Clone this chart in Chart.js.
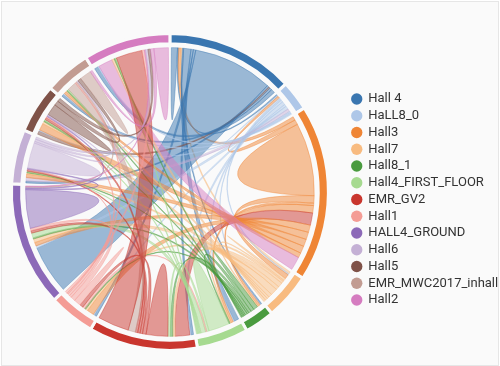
<!DOCTYPE html>
<html>
<head>
<meta charset="utf-8">
<script src="https://cdn.jsdelivr.net/npm/chart.js@4.4.1/dist/chart.umd.min.js"></script>
<style>
  html, body { margin: 0; padding: 0; background: #fff; }
  #frame { position: absolute; left: 1px; top: 1px; width: 496px; height: 363px; border: 1px solid #e6e6e6; background: #fafafa; }
  #chart { position: absolute; left: 0; top: 0; }
</style>
</head>
<body>
<div id="frame"></div>
<canvas id="chart" width="500" height="366"></canvas>
<script>
// groups, in drawing order (clockwise from 12 o'clock)
const halls = ['Hall 4', 'HaLL8_0', 'Hall3', 'Hall7', 'Hall8_1', 'Hall4_FIRST_FLOOR', 'EMR_GV2',
  'Hall1', 'HALL4_GROUND', 'Hall6', 'Hall5', 'EMR_MWC2017_inhall', 'Hall2'];
const hallColors = ['#3a76b0', '#aec7e8', '#ef8535', '#f8bb80', '#4a9b3f', '#a6da90', '#c9362e',
  '#f49c95', '#8c69b8', '#c4b0d5', '#7f5248', '#c29c92', '#d57cc0'];

// flow from each hall to each hall, columns in the same order as halls
const fromHall4       = [2.5, 0.5, 1, 0.5, 0.5, 3, 1, 1, 33, 0.8, 0.6, 1, 1.6];
const fromHall8_0     = [0.5, 0.5, 1, 0.7, 0.5, 1, 1.5, 1, 1.5, 1.3, 0.5, 0.5, 0.5];
const fromHall3       = [1.5, 2, 30, 3, 1, 3, 5, 3, 3, 3, 3, 2, 5.5];
const fromHall7       = [1, 0.5, 2, 1, 0.5, 1, 2, 1.5, 3, 1.5, 1, 1, 1];
const fromHall8_1     = [0.5, 0.3, 1, 0.5, 2, 1.5, 1.2, 0.8, 1, 0.6, 0.5, 0.6, 0.5];
const fromHall4First  = [2, 0.5, 1, 0.5, 0.5, 9, 1, 0.5, 2, 0.5, 0.5, 0.5, 0.5];
const fromEmrGv2      = [1, 0.5, 6, 1, 1, 1, 9, 1.5, 1, 1, 1, 3, 13];
const fromHall1       = [1, 0.5, 3, 1, 0.5, 1, 1.5, 3, 2, 1, 1, 0.5, 1];
const fromHall4Ground = [20, 1, 1.5, 1.5, 0.5, 2, 1, 1, 16, 0.5, 0.5, 0.3, 0.2];
const fromHall6       = [0.8, 1.5, 1.5, 0.5, 0.3, 0.4, 0.5, 0.3, 0.5, 11, 0.7, 1, 1];
const fromHall5       = [1.5, 0.5, 3, 1, 0.5, 0.5, 1, 0.5, 0.5, 0.5, 5, 2, 1.5];
const fromEmrMwc      = [1, 0.5, 1, 0.5, 0.5, 0.5, 4, 0.5, 0.5, 0.5, 1.5, 5, 1];
const fromHall2       = [1.5, 0.5, 6, 1, 0.5, 0.5, 11, 1, 0.5, 1, 1, 1.5, 6];

const flows = [fromHall4, fromHall8_0, fromHall3, fromHall7, fromHall8_1, fromHall4First, fromEmrGv2,
  fromHall1, fromHall4Ground, fromHall6, fromHall5, fromEmrMwc, fromHall2];
const groupTotals = flows.map((row) => row.reduce((a, b) => a + b, 0));

const BG = '#fafafa';

function rgba(hex, a) {
  const n = parseInt(hex.slice(1), 16);
  return `rgba(${n >> 16},${(n >> 8) & 255},${n & 255},${a})`;
}

// chord ribbons, laid out on the angles the doughnut gave each hall
const ribbons = {
  id: 'ribbons',
  afterDatasetsDraw(chart) {
    const arcs = chart.getDatasetMeta(0).data;
    if (!arcs.length) return;
    const cx = arcs[0].x, cy = arcs[0].y;
    const r = arcs[0].innerRadius - 4;
    const pad = 1.5 / r;

    const sub = flows.map((row, i) => {
      const a = arcs[i];
      const k = (a.endAngle - a.startAngle - 2 * pad) / groupTotals[i];
      let t = a.startAngle + pad;
      return row.map((v) => { const s = [t, t + v * k]; t += v * k; return s; });
    });

    const ctx = chart.ctx;
    ctx.save();
    for (let i = 0; i < flows.length; i++) {
      for (let j = i; j < flows.length; j++) {
        if (!flows[i][j] && !flows[j][i]) continue;
        const src = flows[i][j] >= flows[j][i] ? i : j;
        const tgt = src === i ? j : i;
        const [sa0, sa1] = sub[src][tgt];
        const [ta0, ta1] = sub[tgt][src];
        ctx.beginPath();
        ctx.moveTo(cx + r * Math.cos(sa0), cy + r * Math.sin(sa0));
        ctx.arc(cx, cy, r, sa0, sa1);
        if (src !== tgt) {
          ctx.quadraticCurveTo(cx, cy, cx + r * Math.cos(ta0), cy + r * Math.sin(ta0));
          ctx.arc(cx, cy, r, ta0, ta1);
        }
        ctx.quadraticCurveTo(cx, cy, cx + r * Math.cos(sa0), cy + r * Math.sin(sa0));
        ctx.closePath();
        ctx.fillStyle = rgba(hallColors[src], 0.5);
        ctx.fill();
        ctx.lineWidth = 0.8;
        ctx.strokeStyle = rgba(hallColors[src], 0.5);
        ctx.stroke();
      }
    }
    ctx.restore();
  },
};

// nudge the legend to where the original sits
const legendPlace = {
  id: 'legendPlace',
  afterLayout(chart) {
    const lg = chart.legend;
    const dx = 348 - lg.left;
    lg.left += dx; lg.right += dx;
    lg.top += 7.5; lg.bottom += 7.5;
  },
};

new Chart(document.getElementById('chart'), {
  type: 'doughnut',
  data: {
    labels: halls,
    datasets: [{
      data: groupTotals,
      backgroundColor: hallColors,
      borderColor: BG,
      borderWidth: 3,
      hoverOffset: 0,
    }],
  },
  plugins: [ribbons, legendPlace],
  options: {
    responsive: false,
    animation: false,
    radius: 158.5,
    cutout: '93.6%',
    layout: { padding: { left: -2, right: 0, top: 35, bottom: 17 } },
    plugins: {
      tooltip: { enabled: false },
      legend: {
        position: 'right',
        labels: {
          usePointStyle: true,
          boxWidth: 10,
          boxHeight: 8,
          padding: 3.75,
          color: '#333',
          font: { family: 'Roboto', size: 13 },
          generateLabels: () => halls.map((h, i) => ({
            text: h, fillStyle: hallColors[i], strokeStyle: hallColors[i], lineWidth: 0,
            pointStyle: 'circle', fontColor: '#333', hidden: false, index: i,
          })),
        },
      },
    },
  },
});
</script>
</body>
</html>
